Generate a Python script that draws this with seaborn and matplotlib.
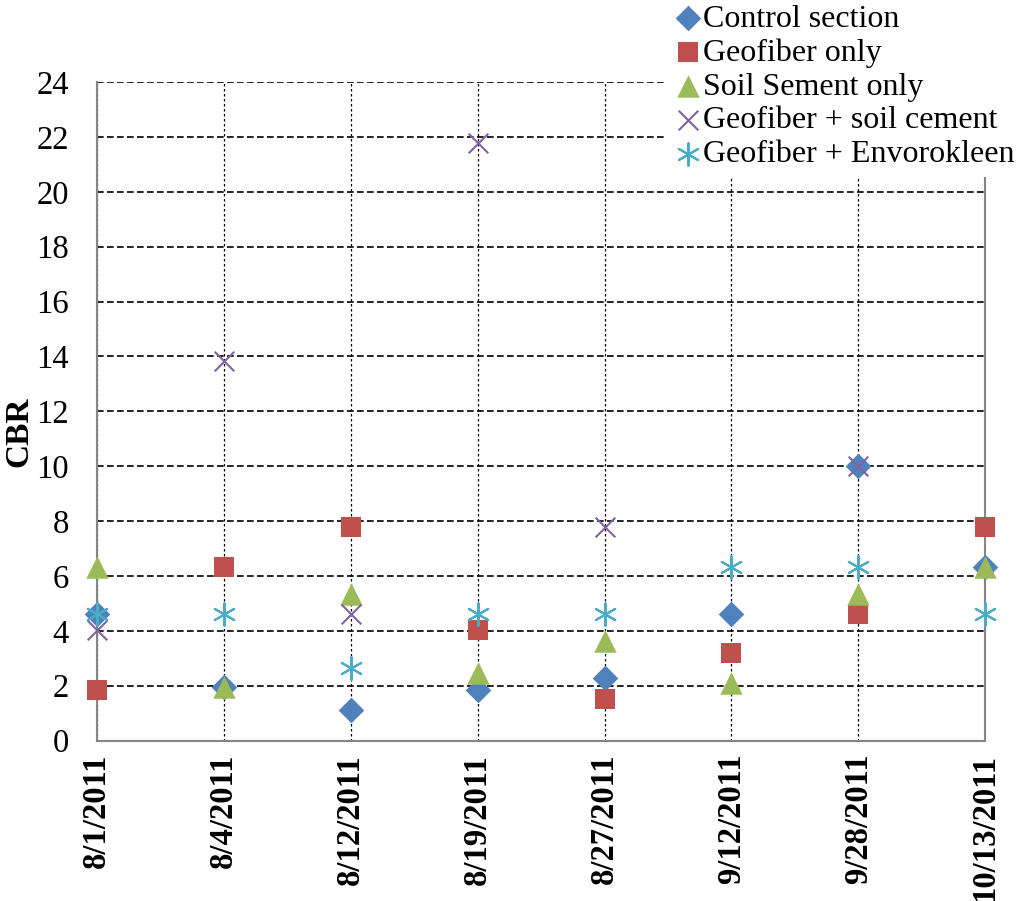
import numpy as np
import pandas as pd
import matplotlib
matplotlib.use('Agg')
import matplotlib.pyplot as plt
import seaborn as sns

dates = ['8/1/2011', '8/4/2011', '8/12/2011', '8/19/2011',
         '8/27/2011', '9/12/2011', '9/28/2011', '10/13/2011']

control = [4.62, 1.97, 1.13, 1.86, 2.29, 4.62, 10.0, 6.34]
geofiber = [1.86, 6.34, 7.8, 4.04, 1.5, 3.2, 4.62, 7.8]
soil_sement = [6.34, 1.97, 5.35, 2.48, 3.64, 2.11, 5.35, 6.34]
geo_cement = [4.04, 13.84, 4.62, 21.78, 7.8, np.nan, 10.0, np.nan]
geo_envoro = [4.62, 4.62, 2.66, 4.62, 4.62, 6.34, 6.34, 4.62]

series = [
    ('Control section', control, '#4F81BD', 'D', 170),
    ('Geofiber only', geofiber, '#C0504D', 's', 210),
    ('Soil Sement only', soil_sement, '#9BBB59', '^', 260),
    ('Geofiber + soil cement', geo_cement, '#8064A2', 'x', 200),
    ('Geofiber + Envorokleen', geo_envoro, '#4BACC6', (6, 2, 0), 260),
]


def main():
    sns.set_style('white')
    plt.rcParams['font.family'] = ['Liberation Serif', 'DejaVu Serif']
    plt.rcParams['text.color'] = 'black'
    plt.rcParams['axes.labelcolor'] = 'black'
    plt.rcParams['xtick.labelcolor'] = 'black'
    plt.rcParams['ytick.labelcolor'] = 'black'

    fig = plt.figure(figsize=(10.19, 9.01), dpi=100)
    ax = fig.add_axes([0.095, 0.178, 0.872, 0.731])

    xpos = np.arange(len(dates))
    for name, vals, color, marker, size in series:
        df = pd.DataFrame({'x': xpos, 'CBR': vals}).dropna()
        lw = 1.5 if marker in ('x', (6, 2, 0)) else 0
        sns.scatterplot(data=df, x='x', y='CBR', ax=ax, color=color,
                        marker=marker, s=size, linewidth=lw,
                        label=name, zorder=3, clip_on=False)

    ax.set_xlim(0, 7)
    ax.set_ylim(0, 24)
    ax.set_yticks(range(0, 25, 2))
    ax.set_xticks(xpos)
    ax.set_xticklabels(dates, rotation=90, fontsize=23.5, fontweight='bold')
    ax.tick_params(axis='y', labelsize=23.5, length=0, pad=20,
                   labelcolor='black')
    ax.tick_params(axis='x', length=6.5, width=1.5, color='#868686',
                   direction='out', pad=3, labelcolor='black')
    ax.set_xlabel('')
    ax.set_ylabel('CBR', fontsize=24, fontweight='bold', color='black')
    ax.yaxis.set_label_coords(-0.07, 0.469)

    ax.grid(axis='y', color='black', linestyle=(0, (4, 2)), linewidth=1.2)
    ax.grid(axis='x', color='black', linestyle=(0, (2, 2)), linewidth=0.9)
    ax.set_axisbelow(True)

    for side in ['left', 'bottom', 'right']:
        ax.spines[side].set_color('#868686')
        ax.spines[side].set_linewidth(1.5)
    ax.spines['top'].set_visible(False)

    leg = ax.legend(loc='upper left', bbox_to_anchor=(0.653, 1.004),
                    bbox_transform=fig.transFigure, frameon=True,
                    fontsize=23, handletextpad=0.0, labelspacing=0.14,
                    borderaxespad=0, handlelength=0.94, borderpad=0.25,
                    fancybox=False)
    leg.get_frame().set_facecolor('white')
    leg.get_frame().set_edgecolor('none')
    leg.get_frame().set_alpha(1)
    for t in leg.get_texts():
        t.set_color('black')

    fig.savefig('out.png', dpi=100)


if __name__ == '__main__':
    main()
